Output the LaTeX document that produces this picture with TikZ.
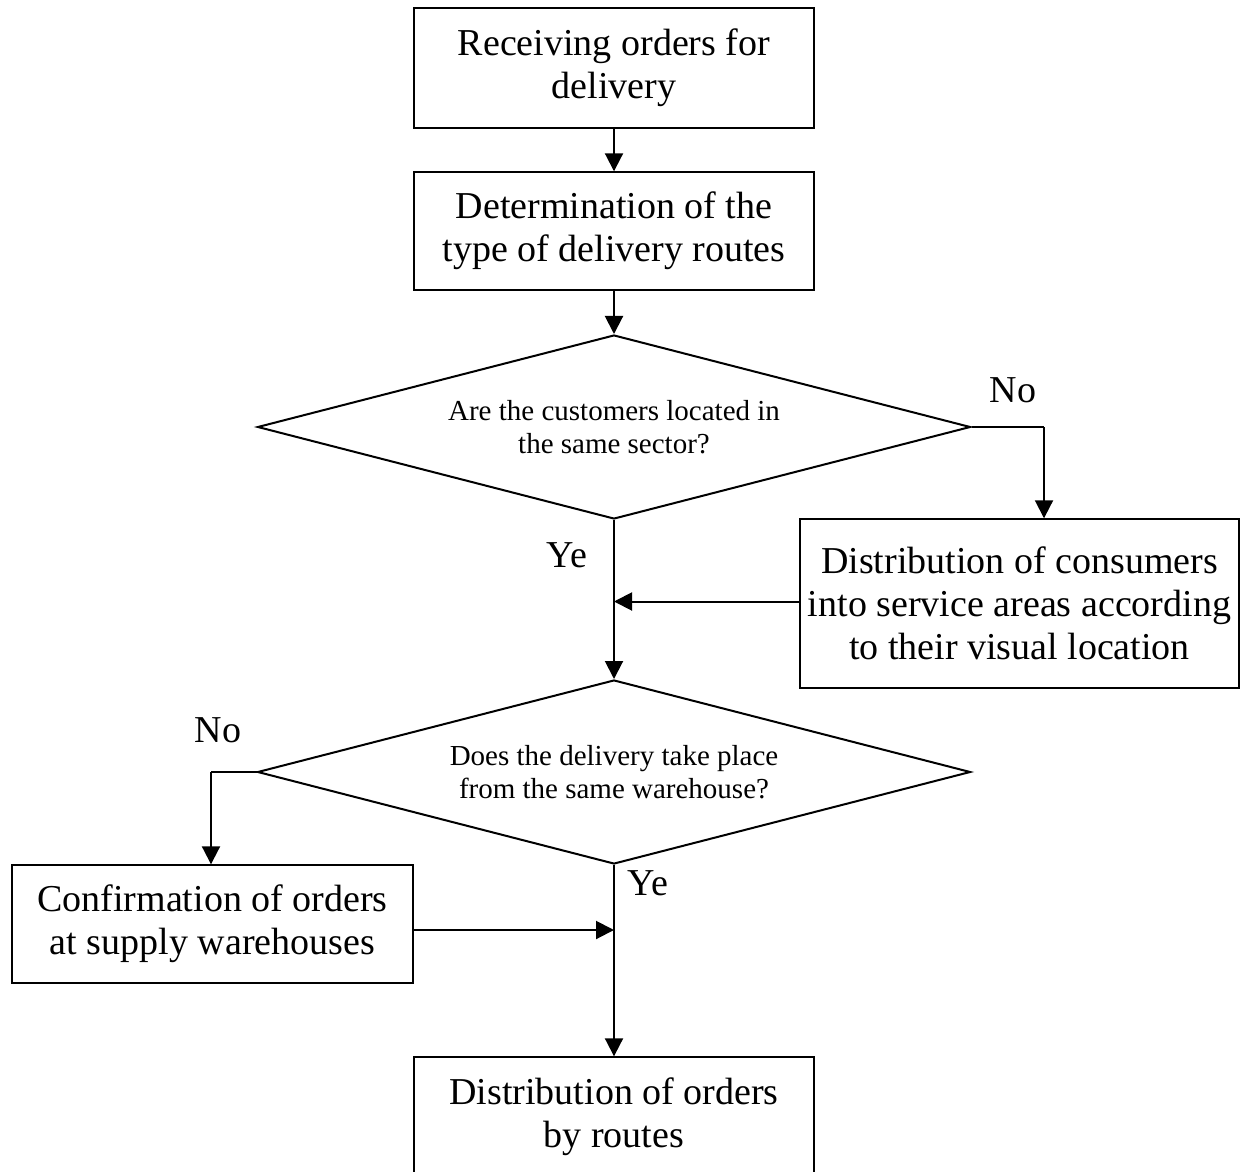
\documentclass[tikz,border=0pt]{standalone}
\usepackage{fontspec}
\setmainfont{Liberation Serif}
\usetikzlibrary{shapes.geometric,arrows.meta,positioning}

\begin{document}
\begin{tikzpicture}[x=0.5pt,y=-0.5pt,
    box/.style={draw,line width=0.7pt,align=center,inner sep=0pt,font=\fontsize{19}{21.5}\selectfont},
    question/.style={diamond,draw,line width=1pt,align=center,inner sep=0pt,aspect=3.875,
      minimum width=356.5pt,minimum height=92pt,font=\fontsize{14.5}{16.5}\selectfont},
    arr/.style={line width=1pt,-{Triangle[length=9pt,width=9pt]}},
    lbl/.style={font=\fontsize{19}{21.5}\selectfont}]

  \useasboundingbox (0,0) rectangle (1240,1171);

  % boxes and questions
  \node[box,minimum width=200pt,minimum height=60pt] (recv) at (614,68) {Receiving orders for\\delivery};
  \node[box,minimum width=200pt,minimum height=59pt] (type) at (614,231) {Determination of the\\type of delivery routes};
  \node[question] (sector) at (614,427) {Are the customers located in\\the same sector?};
  \node[box,minimum width=219.5pt,minimum height=84.5pt] (zones) at (1019.5,603.5) {Distribution of consumers\\into service areas according\\to their visual location};
  \node[question] (whouse) at (614,772) {Does the delivery take place\\from the same warehouse?};
  \node[box,minimum width=200.5pt,minimum height=59pt] (confirm) at (212.5,924) {Confirmation of orders\\at supply warehouses};
  \node[box,minimum width=200pt,minimum height=60pt] (routes) at (614,1117) {Distribution of orders\\by routes};

  % labels
  \node[lbl] (no1lbl) at (1013,390) {No};
  \node[lbl] (ye1lbl) at (567,555) {Ye};
  \node[lbl] (no2lbl) at (218,730) {No};
  \node[lbl] (ye2lbl) at (648,883) {Ye};

  \coordinate (no1) at (1044,427);
  \coordinate (no2) at (211,772);

  % connectors
  \draw[arr] (recv) -- (type);
  \draw[arr] (type) -- (sector);
  \draw[line width=0.6pt] (sector.east) -- (no1);
  \draw[arr] (no1) -- (no1 |- zones.north);
  \draw[arr] (sector.south) -- (whouse.north);
  \draw[arr] ([yshift=1pt]zones.west) -- ([yshift=1pt]zones.west -| sector.south);
  \draw[line width=0.6pt] (whouse.west) -- (no2);
  \draw[arr] (no2) -- (no2 |- confirm.north);
  \draw[arr] (whouse.south) -- (routes.north);
  \draw[arr] ([yshift=-3pt]confirm.east) -- ([yshift=-3pt]confirm.east -| whouse.south);

\end{tikzpicture}
\end{document}
